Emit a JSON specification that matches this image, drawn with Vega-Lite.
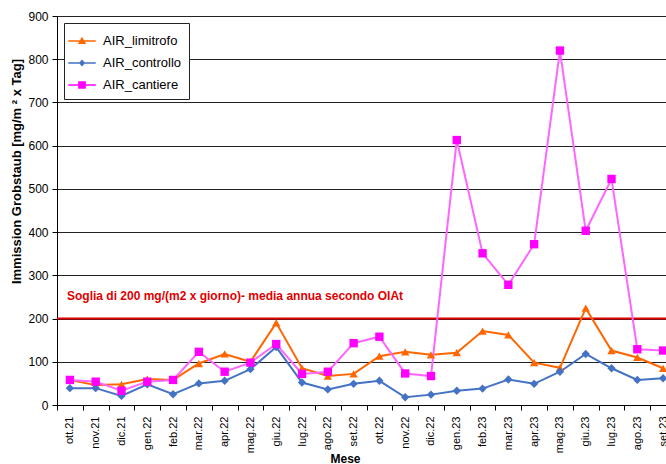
{
  "$schema": "https://vega.github.io/schema/vega-lite/v6.json",
  "width": 609,
  "height": 389,
  "autosize": {"type": "none"},
  "padding": {"left": 57, "top": 16, "right": 0, "bottom": 59},
  "config": {
    "font": "Liberation Sans",
    "view": {"stroke": null},
    "axis": {"labelColor": "#000", "titleColor": "#000", "domainColor": "#000", "tickColor": "#000", "labelFont": "Liberation Sans", "titleFont": "Liberation Sans"}
  },
  "datasets": {
    "misure": [
      {"m": "ott.21", "AIR_limitrofo": 58, "AIR_controllo": 39, "AIR_cantiere": 58},
      {"m": "nov.21", "AIR_limitrofo": 46, "AIR_controllo": 39, "AIR_cantiere": 54},
      {"m": "dic.21", "AIR_limitrofo": 48, "AIR_controllo": 21, "AIR_cantiere": 33},
      {"m": "gen.22", "AIR_limitrofo": 60, "AIR_controllo": 48, "AIR_cantiere": 54},
      {"m": "feb.22", "AIR_limitrofo": 58, "AIR_controllo": 25, "AIR_cantiere": 58},
      {"m": "mar.22", "AIR_limitrofo": 96, "AIR_controllo": 50, "AIR_cantiere": 123},
      {"m": "apr.22", "AIR_limitrofo": 118, "AIR_controllo": 56, "AIR_cantiere": 77},
      {"m": "mag.22", "AIR_limitrofo": 100, "AIR_controllo": 83, "AIR_cantiere": 98},
      {"m": "giu.22", "AIR_limitrofo": 190, "AIR_controllo": 134, "AIR_cantiere": 141},
      {"m": "lug.22", "AIR_limitrofo": 85, "AIR_controllo": 52, "AIR_cantiere": 72},
      {"m": "ago.22", "AIR_limitrofo": 67, "AIR_controllo": 36, "AIR_cantiere": 77},
      {"m": "set.22", "AIR_limitrofo": 72, "AIR_controllo": 49, "AIR_cantiere": 143},
      {"m": "ott.22", "AIR_limitrofo": 113, "AIR_controllo": 56, "AIR_cantiere": 158},
      {"m": "nov.22", "AIR_limitrofo": 123, "AIR_controllo": 18, "AIR_cantiere": 73},
      {"m": "dic.22", "AIR_limitrofo": 116, "AIR_controllo": 24, "AIR_cantiere": 67},
      {"m": "gen.23", "AIR_limitrofo": 121, "AIR_controllo": 33, "AIR_cantiere": 613},
      {"m": "feb.23", "AIR_limitrofo": 171, "AIR_controllo": 38, "AIR_cantiere": 351},
      {"m": "mar.23", "AIR_limitrofo": 162, "AIR_controllo": 59, "AIR_cantiere": 278},
      {"m": "apr.23", "AIR_limitrofo": 98, "AIR_controllo": 49, "AIR_cantiere": 372},
      {"m": "mag.23", "AIR_limitrofo": 86, "AIR_controllo": 77, "AIR_cantiere": 820},
      {"m": "giu.23", "AIR_limitrofo": 224, "AIR_controllo": 118, "AIR_cantiere": 403},
      {"m": "lug.23", "AIR_limitrofo": 126, "AIR_controllo": 85, "AIR_cantiere": 523},
      {"m": "ago.23", "AIR_limitrofo": 110, "AIR_controllo": 58, "AIR_cantiere": 129},
      {"m": "set.23", "AIR_limitrofo": 85, "AIR_controllo": 62, "AIR_cantiere": 126}
    ],
    "soglia": [
      {"valore": 200, "m": "ott.21", "posY": 252, "testo": "Soglia di 200 mg/(m2 x giorno)- media annua  secondo OIAt"}
    ]
  },
  "layer": [
    {
      "data": {"name": "soglia"},
      "mark": {"type": "rule", "color": "#E00000", "strokeWidth": 2},
      "encoding": {
        "y": {
          "field": "valore",
          "type": "quantitative",
          "scale": {"domain": [0, 900], "nice": false},
          "axis": {
            "values": [0, 100, 200, 300, 400, 500, 600, 700, 800, 900],
            "grid": true,
            "gridColor": "#222",
            "gridWidth": 1,
            "labelFontSize": 12,
            "labelPadding": 4,
            "tickSize": 5,
            "title": "Immission Grobstaub [mg/m ² x Tag]",
            "titleFontSize": 13,
            "titleFontWeight": "bold",
            "titleY": 155,
            "titlePadding": 4
          }
        }
      }
    },
    {
      "data": {"name": "soglia"},
      "mark": {"type": "text", "color": "#E00000", "fontWeight": "bold", "fontSize": 12, "align": "left", "baseline": "middle", "dx": 10},
      "encoding": {
        "x": {"field": "m", "type": "ordinal", "bandPosition": 0},
        "y": {"field": "posY", "type": "quantitative"},
        "text": {"field": "testo"}
      }
    },
    {
      "data": {"name": "misure"},
      "transform": [{"fold": ["AIR_limitrofo", "AIR_controllo", "AIR_cantiere"], "as": ["serie", "val"]}],
      "mark": {"type": "line", "strokeWidth": 2},
      "encoding": {
        "x": {
          "field": "m",
          "type": "ordinal",
          "scale": {
            "type": "band",
            "domain": ["ott.21", "nov.21", "dic.21", "gen.22", "feb.22", "mar.22", "apr.22", "mag.22", "giu.22", "lug.22", "ago.22", "set.22", "ott.22", "nov.22", "dic.22", "gen.23", "feb.23", "mar.23", "apr.23", "mag.23", "giu.23", "lug.23", "ago.23", "set.23"],
            "paddingInner": 0,
            "paddingOuter": 0,
            "range": [0, 619]
          },
          "axis": {
            "tickBand": "extent",
            "labelAngle": -90,
            "labelFontSize": 11,
            "labelPadding": 6,
            "tickSize": 5,
            "grid": false,
            "title": "Mese",
            "titleFontSize": 12,
            "titleFontWeight": "bold",
            "titleX": 288,
            "titleY": 53,
            "titleBaseline": "middle"
          }
        },
        "y": {"field": "val", "type": "quantitative"},
        "color": {
          "field": "serie",
          "type": "nominal",
          "scale": {"domain": ["AIR_limitrofo", "AIR_controllo", "AIR_cantiere"], "range": ["#FF6600", "#4472C4", "#FF66FF"]},
          "legend": null
        }
      }
    },
    {
      "data": {"name": "misure"},
      "transform": [{"fold": ["AIR_limitrofo", "AIR_controllo", "AIR_cantiere"], "as": ["serie", "val"]}],
      "mark": {"type": "point", "filled": true, "opacity": 1, "size": 70},
      "encoding": {
        "x": {"field": "m", "type": "ordinal"},
        "y": {"field": "val", "type": "quantitative"},
        "shape": {
          "field": "serie",
          "type": "nominal",
          "scale": {"domain": ["AIR_limitrofo", "AIR_controllo", "AIR_cantiere"], "range": ["triangle-up", "diamond", "square"]},
          "legend": null
        },
        "color": {
          "field": "serie",
          "type": "nominal",
          "scale": {"domain": ["AIR_limitrofo", "AIR_controllo", "AIR_cantiere"], "range": ["#FF6600", "#4472C4", "#FF00FF"]},
          "legend": {
            "title": null,
            "orient": "top-left",
            "offset": 7,
            "padding": 7,
            "fillColor": "white",
            "strokeColor": "#222",
            "symbolSize": 484,
            "rowPadding": 4,
            "labelFontSize": 13,
            "labelOffset": 10,
            "labelColor": "#000",
            "labelFont": "Liberation Sans",
            "symbolStrokeWidth": 0,
            "symbolOpacity": 1,
            "encode": {
              "symbols": {
                "update": {
                  "shape": {"signal": "datum.value === 'AIR_limitrofo' ? 'M-1.25,-0.07H1.25V0.07H-1.25Z M0,-0.38L0.38,0.28L-0.38,0.28Z' : datum.value === 'AIR_controllo' ? 'M-1.25,-0.07H1.25V0.07H-1.25Z M0,-0.32L0.28,0L0,0.32L-0.28,0Z' : 'M-1.25,-0.07H1.25V0.07H-1.25Z M-0.35,-0.35H0.35V0.35H-0.35Z'"}
                }
              }
            }
          }
        }
      }
    }
  ],
  "resolve": {"scale": {"color": "independent"}}
}
